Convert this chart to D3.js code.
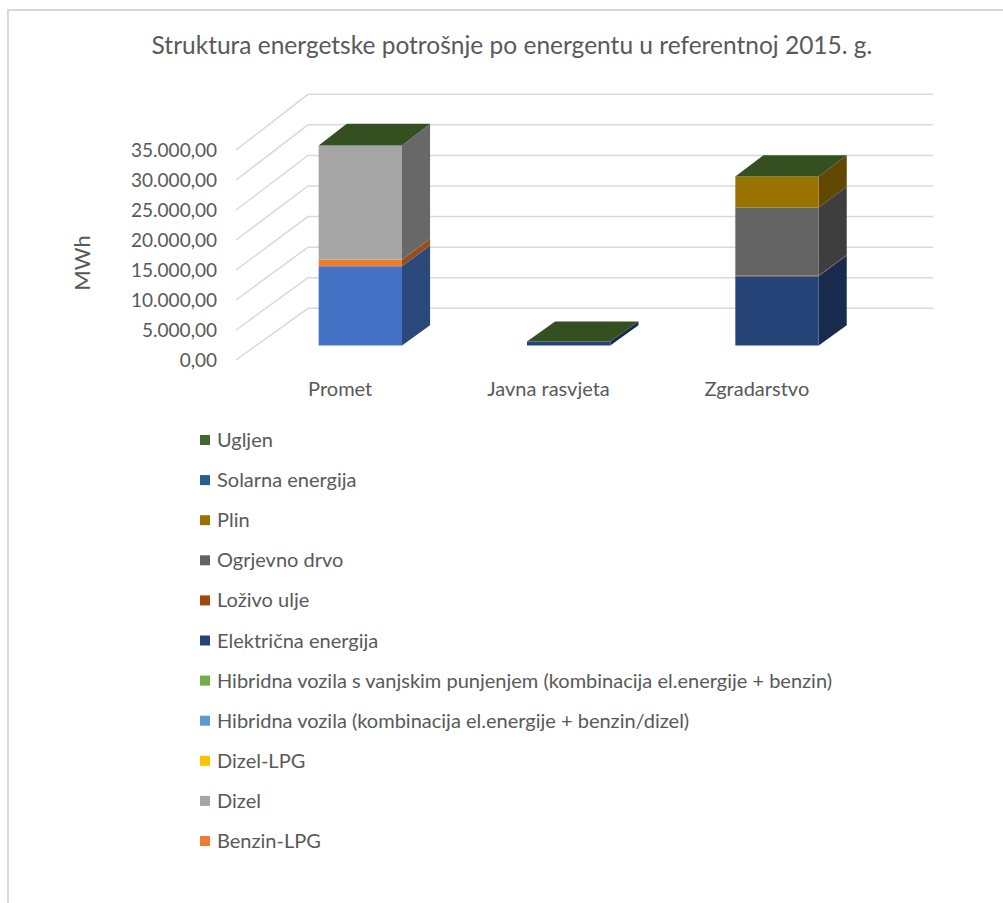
<!DOCTYPE html>
<html>
<head>
<meta charset="utf-8">
<script src="https://cdn.jsdelivr.net/npm/d3@7"></script>
<style>
    body { margin: 0; background: #fff; }
    svg { display: block; font-family: Lato, 'Open Sans', sans-serif; }
    text { fill: #595959; }
</style>
</head>
<body>
<div id="chart"></div>
<script>
// data (MWh), series in stacking order bottom -> top
const categories = ['Promet', 'Javna rasvjeta', 'Zgradarstvo'];
const seriesNames = [
    'Benzin',
    'Benzin-LPG',
    'Dizel',
    'Dizel-LPG',
    'Hibridna vozila (kombinacija el.energije + benzin/dizel)',
    'Hibridna vozila s vanjskim punjenjem (kombinacija el.energije + benzin)',
    'Električna energija',
    'Loživo ulje',
    'Ogrjevno drvo',
    'Plin',
    'Solarna energija',
    'Ugljen',
];
const benzin = [13150, 0, 0];
const benzinLpg = [1110, 0, 0];
const dizel = [18900, 0, 0];
const dizelLpg = [0, 0, 0];
const hibridna = [0, 0, 0];
const hibridnaVanjsko = [0, 0, 0];
const elektricna = [0, 650, 11490];
const lozivoUlje = [0, 0, 100];
const ogrjevnoDrvo = [0, 0, 11280];
const plin = [0, 0, 5140];
const solarna = [0, 0, 0];
const ugljen = [0, 0, 0];
const yTicks = [0, 5000, 10000, 15000, 20000, 25000, 30000, 35000];

const seriesValues = [benzin, benzinLpg, dizel, dizelLpg, hibridna, hibridnaVanjsko,
    elektricna, lozivoUlje, ogrjevnoDrvo, plin, solarna, ugljen];
const colors = ['#4472C4', '#ED7D31', '#A5A5A5', '#FFC000', '#5B9BD5', '#70AD47',
    '#264478', '#9E480E', '#636363', '#997300', '#255E91', '#43682B'];

const W = 1003, H = 903;
const depthX = 72;          // horizontal shift of the full floor depth
const barFront = 0.28, barBack = 0.67;  // bar position inside the depth

const svg = d3.select('#chart').append('svg')
    .attr('width', W)
    .attr('height', H);

// chart border (cut by the window on the right and bottom)
svg.append('rect')
    .attr('x', 8).attr('y', 10)
    .attr('width', W).attr('height', H)
    .attr('fill', 'none')
    .attr('stroke', '#d9d9d9')
    .attr('stroke-width', 2);

svg.append('text')
    .attr('x', 512).attr('y', 54)
    .attr('text-anchor', 'middle')
    .style('font-size', '24.5px')
    .text('Struktura energetske potrošnje po energentu u referentnoj 2015. g.');

// scales
const yFront = d3.scaleLinear().domain([0, 35000]).range([360, 150]);
const yBack = d3.scaleLinear().domain([0, 35000]).range([308.3, 94.3]);
const xBand = d3.scaleBand()
    .domain(categories)
    .range([236, 861])
    .paddingInner(0.6)
    .paddingOuter(0.3);

// projection: x on the front edge, value, depth 0..1
const P = (x, v, d) => [x + d * depthX, yFront(v) + (yBack(v) - yFront(v)) * d];
const poly = pts => 'M' + pts.map(p => p.join(',')).join('L') + 'Z';
const shade = (c, k) => {
    const { r, g, b } = d3.rgb(c);
    return d3.rgb(r * k, g * k, b * k).formatHex();
};

// walls: side wall diagonals + back wall lines
const [x0, x1] = xBand.range();
const grid = svg.append('g')
    .attr('fill', 'none')
    .attr('stroke', '#d9d9d9')
    .attr('stroke-width', 1.5);
grid.selectAll('path')
    .data(yTicks)
    .join('path')
    .attr('d', v => 'M' + P(x0, v, 0) + 'L' + P(x0, v, 1) + 'L' + P(x1, v, 1));

// y axis labels
const fmt = d3.formatLocale({ decimal: ',', thousands: '.', grouping: [3], currency: ['', ''] })
    .format(',.2f');
const yAxisG = svg.append('g')
    .attr('transform', 'translate(217,0)')
    .call(d3.axisLeft(yFront).tickValues(yTicks).tickSize(0).tickPadding(0).tickFormat(fmt));
yAxisG.select('.domain').remove();
yAxisG.selectAll('text')
    .attr('fill', '#595959')
    .style('font-family', 'Lato, sans-serif')
    .style('font-size', '19px');

svg.append('text')
    .attr('transform', 'translate(90,263) rotate(-90)')
    .attr('text-anchor', 'middle')
    .style('font-size', '22px')
    .text('MWh');

// category labels
const xAxisG = svg.append('g')
    .attr('transform', 'translate(0,382)')
    .call(d3.axisBottom(xBand).tickSize(0).tickPadding(0));
xAxisG.select('.domain').remove();
xAxisG.selectAll('text')
    .attr('fill', '#595959')
    .style('font-family', 'Lato, sans-serif')
    .style('font-size', '20px');

// stacked 3d columns
const table = categories.map((c, i) => {
    const row = { category: c };
    seriesNames.forEach((s, j) => { row[s] = seriesValues[j][i]; });
    return row;
});
const stacked = d3.stack().keys(seriesNames)(table);

const bars = svg.append('g');
const bw = xBand.bandwidth();
categories.forEach((c, i) => {
    const xl = xBand(c), xr = xl + bw;
    stacked.forEach((layer, j) => {
        const [v0, v1] = layer[i];
        if (v1 - v0 <= 0) return;
        bars.append('path')
            .attr('d', poly([P(xr, v0, barFront), P(xr, v0, barBack), P(xr, v1, barBack), P(xr, v1, barFront)]))
            .attr('fill', shade(colors[j], 0.63));
        bars.append('path')
            .attr('d', poly([P(xl, v0, barFront), P(xr, v0, barFront), P(xr, v1, barFront), P(xl, v1, barFront)]))
            .attr('fill', colors[j]);
    });
    // top face takes the colour of the last series
    const last = stacked.length - 1;
    const top = stacked[last][i][1];
    bars.append('path')
        .attr('d', poly([P(xl, top, barFront), P(xr, top, barFront), P(xr, top, barBack), P(xl, top, barBack)]))
        .attr('fill', shade(colors[last], 0.77));
});

// legend (reversed order, clipped to the chart like the original)
const legendTop = 440, rowH = 40.1, legendBottom = 870;
const legendItems = seriesNames.map((s, j) => ({ name: s, color: colors[j] }))
    .reverse()
    .filter((d, i) => legendTop + i * rowH < legendBottom);
const legend = svg.append('g')
    .selectAll('g')
    .data(legendItems)
    .join('g')
    .attr('transform', (d, i) => `translate(200,${legendTop + i * rowH})`);
legend.append('rect')
    .attr('x', 0).attr('y', -5)
    .attr('width', 10).attr('height', 10)
    .attr('fill', d => d.color);
legend.append('text')
    .attr('x', 17).attr('dy', '0.35em')
    .style('font-size', '20px')
    .text(d => d.name);
</script>
</body>
</html>
